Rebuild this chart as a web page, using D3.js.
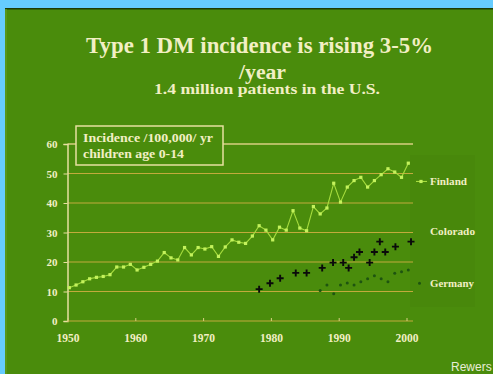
<!DOCTYPE html>
<html>
<head>
<meta charset="utf-8">
<script src="https://cdn.jsdelivr.net/npm/d3@7"></script>
<style>
  html, body { margin: 0; padding: 0; background: #66ccff; }
  svg { display: block; }
  text { font-family: "Liberation Serif", "Times New Roman", serif; font-weight: bold; }
  text.credit { font-family: "Liberation Sans", Arial, sans-serif; font-weight: normal; }
</style>
</head>
<body>
<svg id="chart" width="493" height="374"></svg>
<script>
// Finland incidence per 100,000, one value per year 1950-2000
const finlandYears = d3.range(1950, 2001);
const finlandValues = [
  11.3, 12.2, 13.3, 14.3, 14.8, 15.1, 15.7, 18.3, 18.3, 19.2,
  17.3, 18.2, 19.2, 20.3, 23.2, 21.4, 20.7, 24.9, 22.4, 24.9,
  24.4, 25.2, 21.9, 25.1, 27.5, 26.7, 26.3, 28.8, 32.3, 30.8,
  27.5, 31.8, 30.8, 37.4, 31.5, 30.6, 38.8, 36.3, 38.3, 46.7,
  40.3, 45.4, 47.6, 48.7, 45.4, 47.6, 49.6, 51.6, 50.5, 48.7,
  53.5
];
// Colorado incidence (irregular reporting points)
const coloradoYears = [1978.0, 1979.6, 1981.1, 1983.4, 1985.0, 1987.3, 1988.9, 1990.4, 1991.2,
  1992.0, 1992.8, 1994.3, 1995.0, 1995.8, 1996.6, 1998.1, 2000.4];
const coloradoValues = [10.8, 12.8, 14.5, 16.3, 16.3, 18.0, 19.8, 19.8, 18.0,
  21.6, 23.4, 19.8, 23.4, 26.9, 23.4, 25.2, 26.9];
// Germany incidence 1987-2000
const germanyYears = d3.range(1987, 2001);
const germanyValues = [10.3, 12.2, 9.2, 12.2, 12.9, 12.2, 13.3, 14.3, 15.3, 14.3, 13.3, 16.2, 16.7, 17.3];

const yTicks = [0, 10, 20, 30, 40, 50, 60];
const xTicks = [1950, 1960, 1970, 1980, 1990, 2000];
const seriesNames = ["Finland", "Colorado", "Germany"];

const svg = d3.select("#chart");
const cream = "#f2efc4";
const slideGreen = "#4a8c0c";

// slide panel
svg.append("rect").attr("x", 5).attr("y", 8).attr("width", 488).attr("height", 366).attr("fill", slideGreen);
svg.append("rect").attr("x", 5).attr("y", 8).attr("width", 488).attr("height", 1.5).attr("fill", "#1d3a06");
svg.append("rect").attr("x", 5).attr("y", 9).attr("width", 2).attr("height", 365).attr("fill", "#5c9a22").attr("opacity", 0.7);

// titles
svg.append("text").attr("x", 259.5).attr("y", 53).attr("text-anchor", "middle")
  .attr("font-size", 23).attr("textLength", 347).attr("lengthAdjust", "spacingAndGlyphs")
  .attr("fill", cream).text("Type 1 DM incidence is rising 3-5%");
svg.append("text").attr("x", 262.5).attr("y", 79).attr("text-anchor", "middle")
  .attr("font-size", 20).attr("textLength", 47).attr("lengthAdjust", "spacingAndGlyphs")
  .attr("fill", cream).text("/year");
svg.append("text").attr("x", 267).attr("y", 94).attr("text-anchor", "middle")
  .attr("font-size", 15).attr("textLength", 226).attr("lengthAdjust", "spacingAndGlyphs")
  .attr("fill", cream).text("1.4 million patients in the U.S.");

const x = d3.scaleLinear().domain([1950, 2000]).range([67.5, 406.5]);
const y = d3.scaleLinear().domain([0, 60]).range([321, 144]);
const plotRight = 413;

// legend panel backdrop
svg.append("rect").attr("x", 410).attr("y", 155).attr("width", 65).attr("height", 152)
  .attr("fill", "#000").attr("opacity", 0.025);

// gridlines
svg.append("g").selectAll("line").data(yTicks.filter(d => d > 0)).join("line")
  .attr("x1", x(1950)).attr("x2", plotRight)
  .attr("y1", d => y(d)).attr("y2", d => y(d))
  .attr("stroke", d => d === 60 ? "#d8cf80" : "#c2aa3c")
  .attr("stroke-width", d => d === 60 ? 1.6 : 1);

// y axis
const yAxis = svg.append("g").attr("transform", `translate(${x(1950)},0)`)
  .call(d3.axisLeft(y).tickValues(yTicks).tickSize(4).tickPadding(6));
yAxis.select(".domain").attr("stroke", "#e8e0a0").attr("stroke-width", 1.5);
yAxis.selectAll(".tick line").attr("stroke", "#e8e0a0");
yAxis.selectAll(".tick text").attr("fill", cream).attr("font-size", 11);

// x axis
const xAxis = svg.append("g").attr("transform", `translate(0,${y(0)})`)
  .call(d3.axisBottom(x).tickValues(xTicks).tickFormat(d3.format("d")).tickSizeInner(-3).tickSizeOuter(0).tickPadding(13));
xAxis.select(".domain").attr("d", `M${x(1950)},0H${plotRight}`).attr("stroke", "#c2aa3c").attr("stroke-width", 1.2);
xAxis.selectAll(".tick line").attr("stroke", "#d8cf80");
xAxis.selectAll(".tick text").attr("fill", cream).attr("font-size", 11.5);

// marks are drawn at mid-year
const marks = svg.append("g").attr("transform", "translate(1.8,0)");

const finland = finlandYears.map((yr, i) => ({ yr, v: finlandValues[i] }));
marks.append("path").datum(finland)
  .attr("d", d3.line().x(d => x(d.yr)).y(d => y(d.v)))
  .attr("fill", "none").attr("stroke", "#a6dc3e").attr("stroke-width", 1.1);
marks.append("g").selectAll("rect").data(finland).join("rect")
  .attr("x", d => x(d.yr) - 1.6).attr("y", d => y(d.v) - 1.6)
  .attr("width", 3.2).attr("height", 3.2).attr("fill", "#c4f25c");

const germany = germanyYears.map((yr, i) => ({ yr, v: germanyValues[i] }));
marks.append("g").selectAll("circle").data(germany).join("circle")
  .attr("cx", d => x(d.yr)).attr("cy", d => y(d.v)).attr("r", 1.5).attr("fill", "#1e5410");

const colorado = coloradoYears.map((yr, i) => ({ yr, v: coloradoValues[i] }));
marks.append("g").selectAll("path").data(colorado).join("path")
  .attr("transform", d => `translate(${x(d.yr)},${y(d.v)})`)
  .attr("d", "M-3.5,0H3.5M0,-3.5V3.5")
  .attr("stroke", "#0a0a0a").attr("stroke-width", 1.9);

// legend
const legendY = [y(47.3), y(30.3), y(12.8)];
const legendWidths = [37, 45, 44];
const leg = svg.append("g");
seriesNames.forEach((name, i) => {
  leg.append("text").attr("x", 430).attr("y", legendY[i] + 3.5)
    .attr("font-size", 11).attr("textLength", legendWidths[i]).attr("lengthAdjust", "spacingAndGlyphs")
    .attr("fill", cream).text(name);
});
leg.append("line").attr("x1", 416).attr("x2", 427).attr("y1", legendY[0]).attr("y2", legendY[0])
  .attr("stroke", "#a6dc3e").attr("stroke-width", 1.1);
leg.append("rect").attr("x", 419.4).attr("y", legendY[0] - 1.6).attr("width", 3.2).attr("height", 3.2).attr("fill", "#c4f25c");
leg.append("circle").attr("cx", 419.5).attr("cy", legendY[2]).attr("r", 1.5).attr("fill", "#1e5410");

// units box
svg.append("rect").attr("x", 76).attr("y", 126).attr("width", 147).attr("height", 39)
  .attr("fill", slideGreen).attr("stroke", "#e8e0a0").attr("stroke-width", 1.5);
svg.append("text").attr("x", 83).attr("y", 142).attr("font-size", 12)
  .attr("textLength", 130).attr("lengthAdjust", "spacingAndGlyphs").attr("fill", cream).text("Incidence /100,000/ yr");
svg.append("text").attr("x", 83).attr("y", 158).attr("font-size", 12)
  .attr("textLength", 101).attr("lengthAdjust", "spacingAndGlyphs").attr("fill", cream).text("children age 0-14");

// source credit in the bottom corner
svg.append("text").attr("class", "credit").attr("x", 451).attr("y", 371).attr("font-size", 12)
  .attr("fill", "#e8ecd8").text("Rewers");
</script>
</body>
</html>
